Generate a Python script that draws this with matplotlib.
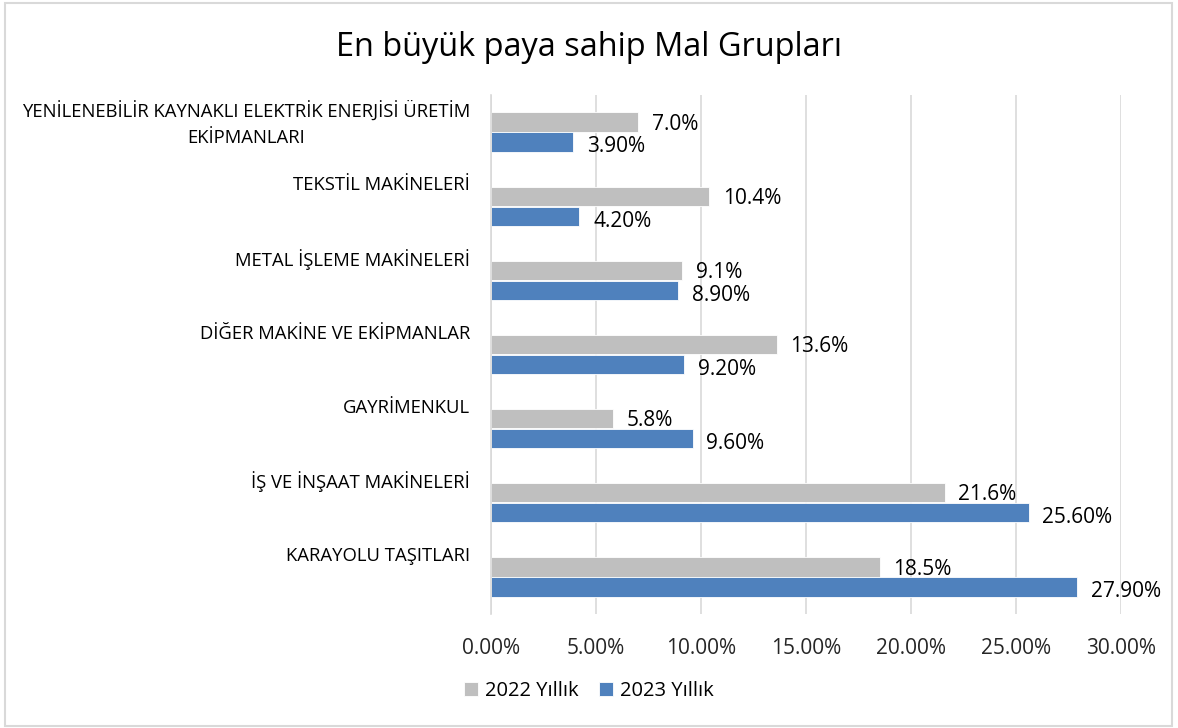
import matplotlib
matplotlib.use("Agg")
import matplotlib.pyplot as plt
from matplotlib.patches import Rectangle
from matplotlib.ticker import FuncFormatter

categories = [
    "YENİLENEBİLİR KAYNAKLI ELEKTRİK ENERJİSİ ÜRETİM\nEKİPMANLARI",
    "TEKSTİL MAKİNELERİ",
    "METAL İŞLEME MAKİNELERİ",
    "DİĞER MAKİNE VE EKİPMANLAR",
    "GAYRİMENKUL",
    "İŞ VE İNŞAAT MAKİNELERİ",
    "KARAYOLU TAŞITLARI",
]
values_2022 = [7.0, 10.4, 9.1, 13.6, 5.8, 21.6, 18.5]
values_2023 = [3.9, 4.2, 8.9, 9.2, 9.6, 25.6, 27.9]
labels_2022 = ["7.0%", "10.4%", "9.1%", "13.6%", "5.8%", "21.6%", "18.5%"]
labels_2023 = ["3.90%", "4.20%", "8.90%", "9.20%", "9.60%", "25.60%", "27.90%"]
series_names = ["2022 Yıllık", "2023 Yıllık"]
x_ticks = [0, 5, 10, 15, 20, 25, 30]
title = "En büyük paya sahip Mal Grupları"

FONT = ["Open Sans", "DejaVu Sans"]
plt.rcParams["font.family"] = FONT

GRAY = "#BFBFBF"
BLUE = "#4F81BD"
TXT = "#000000"
VAL_FS = 15
CAT_FS = 13.3

fig = plt.figure(figsize=(11.78, 7.28), dpi=100)
fig.patch.set_facecolor("white")
fig.patches.append(Rectangle((5 / 1178, 2 / 728), 1167 / 1178, 723 / 728,
                             transform=fig.transFigure, fill=False,
                             edgecolor="#D9D9D9", linewidth=1.5))

ax = fig.add_axes([491 / 1178, 1 - 614 / 728, 630 / 1178, 519 / 728])
y = list(range(len(categories)))
h = 0.26
off = 0.135
b1 = ax.barh([v - off for v in y], values_2022, height=h, color=GRAY,
             edgecolor="white", linewidth=0.6, label=series_names[0])
b2 = ax.barh([v + off for v in y], values_2023, height=h, color=BLUE,
             edgecolor="white", linewidth=0.6, label=series_names[1])

ax.set_xlim(0, 30)
ax.set_ylim(len(categories) - 0.5, -0.5)
ax.set_xticks(x_ticks)
ax.xaxis.set_major_formatter(FuncFormatter(lambda v, p: f"{v:.2f}%"))
ax.tick_params(axis="x", length=0, labelsize=VAL_FS, pad=17, colors="#262626")
ax.set_yticks([])
ax.grid(axis="x", color="#D9D9D9", linewidth=1.2)
ax.set_axisbelow(True)
for s in ["top", "right", "bottom"]:
    ax.spines[s].set_visible(False)
ax.spines["left"].set_color("#D9D9D9")
ax.spines["left"].set_linewidth(1.2)

for i, (v, lab) in enumerate(zip(values_2022, labels_2022)):
    ax.annotate(lab, (v, i - off), xytext=(10, -1.5), textcoords="offset points",
                va="center", ha="left", fontsize=VAL_FS, color=TXT)
for i, (v, lab) in enumerate(zip(values_2023, labels_2023)):
    ax.annotate(lab, (v, i + off), xytext=(10, -3.5), textcoords="offset points",
                va="center", ha="left", fontsize=VAL_FS, color=TXT)

for i, cat in enumerate(categories):
    multi = "\n" in cat
    ax.annotate(cat, (0, i - (0.43 if multi else 0.31)), xytext=(-15, 0),
                textcoords="offset points",
                xycoords=("axes fraction", "data"),
                ha="right", va="top" if multi else "center_baseline",
                multialignment="center", fontsize=CAT_FS, color=TXT,
                linespacing=1.6)

fig.text(0.5, 1 - 47 / 728, title, ha="center", va="center", fontsize=23.4, color=TXT)

leg = fig.legend(handles=[b1, b2], labels=series_names, loc="center",
                 bbox_to_anchor=(0.5, 1 - 691 / 728), ncol=2, frameon=False,
                 fontsize=14.5, handlelength=0.7, handleheight=0.7,
                 handletextpad=0.35, columnspacing=1.0)

fig.savefig("out.png", dpi=100, facecolor="white")
